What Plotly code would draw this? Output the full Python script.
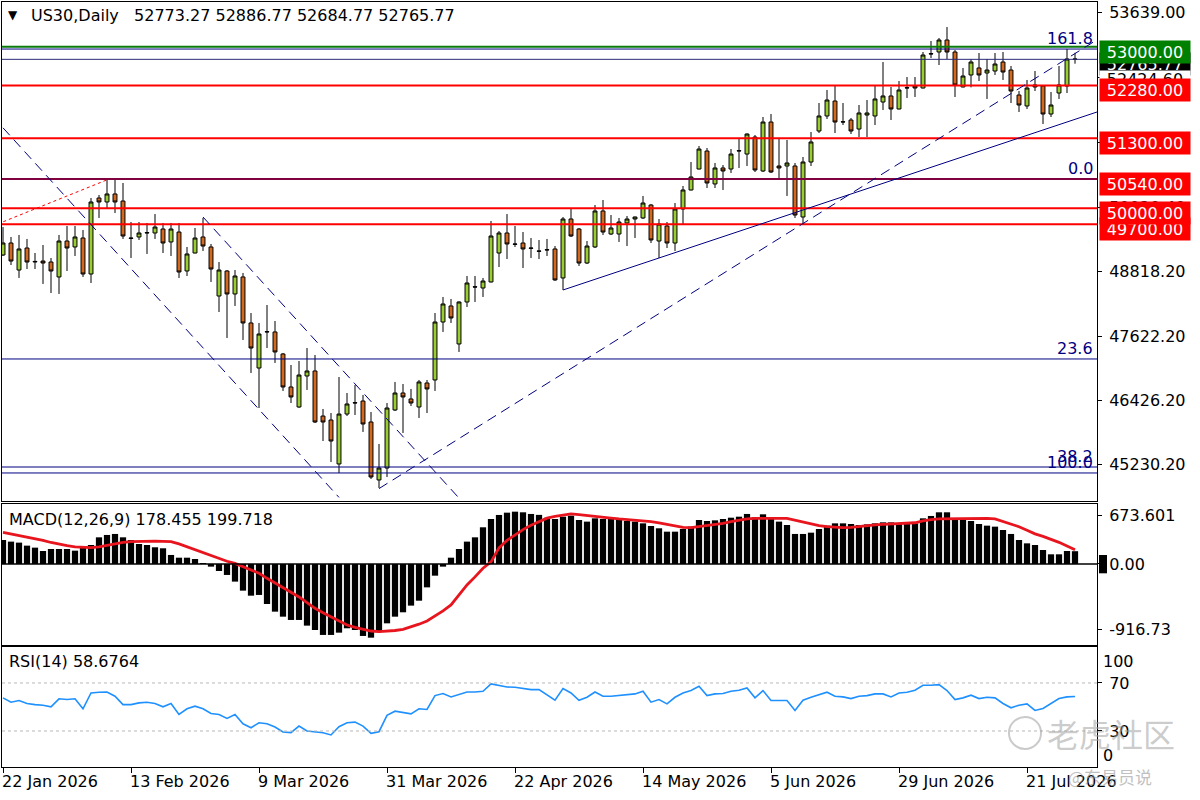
import pandas as pd
import plotly.graph_objects as go
from plotly.subplots import make_subplots

# bars: 22 Jan 2026 .. 29 Jul 2026 (weekdays)
dates = pd.bdate_range("2026-01-22", periods=135).strftime("%Y-%m-%d").tolist()

opens = [49130, 49353, 48851, 49260, 49000, 49018, 49000, 48722, 49390, 49279,
         49446, 48777, 50189, 50115, 50264, 50133, 49446, 49465, 49539, 49539,
         49613, 49372, 49557, 48833, 49167, 49465, 49279, 48368, 48833, 48406,
         48722, 47867, 47030, 47700, 47700, 47291, 46678, 46306, 46882, 46975,
         46138, 46064, 45247, 46175, 46380, 46417, 46027, 44950, 45172, 46250,
         46566, 46455, 46306, 46752, 46808, 47885, 48183, 47477, 48257, 48540,
         48517, 48629, 49167, 49539, 49335, 49353, 49260, 49205, 49223, 49242,
         48703, 49799, 49613, 48981, 49279, 49948, 49520, 49520, 49725, 49799,
         49818, 50059, 49390, 49669, 49353, 49985, 50338, 50728, 51062, 50450,
         50747, 50728, 51062, 51006, 51322, 50691, 51601, 50784, 50784, 50784,
         49836, 50858, 51434, 51713, 51991, 51601, 51638, 51471, 51731, 51713,
         51973, 52085, 51843, 52233, 52270, 52233, 52865, 52902, 53125, 52902,
         52252, 52475, 52605, 52512, 52549, 52716, 52567, 52103, 51899, 52289,
         52270, 51750, 52140, 52270, 52773.27]
highs = [49650, 49465, 49502, 49428, 49167, 49316, 49074, 49502, 49669, 49669,
         49595, 50189, 50245, 50524, 50524, 50468, 49743, 49743, 49725, 49892,
         49725, 49725, 49725, 49279, 49632, 49818, 49335, 49000, 48851, 48851,
         48796, 48052, 47867, 48201, 47904, 47309, 47086, 47160, 47402, 47272,
         46269, 46194, 46863, 46566, 46715, 46529, 46213, 45619, 46380, 46771,
         46733, 46641, 46808, 46808, 48052, 48350, 48313, 48270, 48740, 48740,
         48703, 49762, 49576, 49892, 49669, 49557, 49446, 49409, 49428, 49297,
         49836, 49985, 49632, 49390, 50059, 50152, 49873, 49818, 49855, 49845,
         50227, 50078, 49799, 49743, 50096, 50412, 50858, 51155, 51118, 50840,
         50802, 51099, 51304, 51390, 51360, 51694, 51750, 51285, 51267, 50840,
         50951, 51415, 51954, 52196, 52289, 51954, 51676, 51917, 52010, 52270,
         52716, 52252, 52363, 52437, 52437, 52902, 53106, 53162, 53366, 52939,
         52605, 52772, 52883, 52772, 52883, 52902, 52642, 52177, 52382, 52549,
         52280, 52159, 52642, 52958, 52886.77]
lows = [49112, 48944, 48703, 48870, 48870, 48592, 48424, 48406, 48833, 49112,
        48722, 48610, 49818, 50003, 49910, 49428, 49074, 49409, 49149, 49428,
        49167, 49112, 48703, 48740, 49160, 49205, 48629, 48071, 47588, 48183,
        47551, 46938, 46287, 47402, 47124, 46604, 46380, 46290, 46622, 46008,
        45674, 45284, 45080, 46138, 46157, 45842, 44968, 44801, 45005, 46231,
        45823, 46324, 46101, 46194, 46604, 47700, 47867, 47328, 48164, 48257,
        48350, 48620, 48907, 49055, 49279, 48888, 49074, 49055, 49112, 48650,
        48480, 49465, 48926, 48963, 49260, 49502, 49502, 49372, 49297, 49446,
        49799, 49353, 49074, 49260, 49205, 49706, 50330, 50720, 50375, 50375,
        50338, 50654, 50747, 50784, 50672, 50672, 50654, 50561, 50227, 49818,
        49706, 50784, 51397, 51657, 51397, 51545, 51378, 51322, 51322, 51545,
        51824, 51638, 51835, 52047, 52066, 52225, 52790, 52660, 52772, 52066,
        52245, 52245, 52363, 52029, 52475, 52382, 51954, 51787, 51843, 52177,
        51564, 51694, 52029, 52140, 52684.77]
closes = [49353, 49018, 49242, 49000, 49010, 48981, 48833, 49390, 49260, 49465,
          48777, 50115, 50115, 50264, 50115, 49483, 49440, 49539, 49545, 49650,
          49353, 49613, 48814, 49149, 49446, 49297, 48870, 48851, 48406, 48740,
          47867, 47402, 47662, 47705, 47328, 46678, 46492, 46900, 46975, 46027,
          46027, 45674, 46175, 46362, 46385, 45990, 45005, 45172, 46287, 46566,
          46492, 46380, 46771, 46641, 47885, 48220, 47960, 48257, 48610, 48535,
          48647, 49483, 49539, 49335, 49330, 49242, 49255, 49200, 49228, 48666,
          49799, 49483, 48981, 49297, 49948, 49557, 49632, 49743, 49799, 49836,
          50096, 49409, 49706, 49353, 49985, 50338, 50580, 51099, 50468, 50747,
          50691, 51006, 51068, 51378, 50709, 51601, 50672, 50747, 50840, 49873,
          50858, 51230, 51713, 52010, 51601, 51605, 51434, 51769, 51769, 52029,
          52085, 51843, 52196, 52238, 52233, 52846, 52870, 53125, 52902, 52289,
          52456, 52716, 52475, 52567, 52679, 52530, 52177, 51917, 52233, 52252,
          51750, 51917, 52289, 52772, 52765.77]

macd = [335, 312, 298, 256, 228, 181, 209, 209, 209, 186,
        228, 265, 372, 405, 419, 372, 335, 279, 265, 233,
        219, 126, 88, 88, 70, 5, -37, -98, -153, -246,
        -372, -442, -432, -558, -665, -735, -781, -781, -860, -921,
        -990, -990, -958, -897, -921, -1004, -1028, -944, -828, -735,
        -674, -581, -512, -326, -163, -37, 88, 209, 312, 372,
        512, 628, 684, 716, 730, 721, 698, 685, 645, 628,
        660, 674, 614, 591, 637, 628, 628, 614, 600, 591,
        567, 530, 498, 451, 451, 488, 521, 614, 600, 609,
        628, 646, 660, 698, 651, 693, 646, 591, 544, 419,
        419, 437, 488, 535, 567, 567, 558, 544, 553, 567,
        581, 581, 567, 567, 567, 637, 670, 721, 721, 628,
        628, 600, 558, 535, 521, 474, 419, 335, 288, 265,
        195, 135, 135, 181, 178.455]
signal = [442, 420, 400, 378, 358, 330, 300, 275, 256, 240,
          232, 228, 240, 262, 285, 302, 312, 318, 321, 320,
          316, 312, 280, 240, 195, 150, 110, 72, 38, 9,
          -40, -85, -130, -200, -265, -330, -386, -460, -540, -618,
          -680, -740, -800, -851, -885, -915, -935, -944, -940, -928,
          -911, -880, -840, -795, -730, -655, -572, -440, -293, -180,
          -60, 30, 225, 330, 410, 480, 540, 590, 640, 665,
          685, 698, 690, 675, 660, 651, 640, 628, 620, 610,
          600, 591, 575, 555, 530, 512, 507, 520, 540, 555,
          567, 590, 610, 628, 637, 640, 640, 637, 637, 610,
          580, 553, 535, 520, 510, 507, 512, 525, 535, 545,
          553, 558, 562, 567, 575, 600, 620, 628, 630, 635,
          637, 637, 637, 637, 630, 591, 560, 520, 470, 420,
          385, 345, 302, 250, 199.718]
rsi = [57.6, 54, 55.4, 52.9, 52, 51.5, 50.1, 56.8, 56.2, 56.8,
       48.5, 61.7, 62.3, 62.5, 59, 52, 52, 53.4, 54, 52.9,
       50.1, 52.9, 43.8, 48.5, 50.7, 48.5, 44.6, 43.8, 40.5, 43.8,
       36, 32.7, 36.9, 36, 33.3, 29.2, 28.6, 34.1, 30, 29.4,
       28.6, 26.7, 33.6, 36.9, 37.4, 34.1, 28, 29.4, 43, 46.5,
       45.7, 44.3, 48.5, 47.9, 59.5, 61.2, 58.4, 60.3, 62.5, 62.5,
       63.1, 69.2, 67.8, 66.7, 66.4, 65.3, 64.5, 64.5, 60.3, 55.6,
       65.3, 61.7, 55.6, 58.1, 62.5, 59, 59, 59.8, 60.3, 60.9,
       63.1, 54, 56.2, 52.6, 58.1, 61.7, 63.7, 67.2, 59.5, 60.9,
       61.2, 63.1, 63.9, 65.9, 57.6, 63.7, 55.4, 55.4, 55.4, 47.1,
       55.6, 58.1, 60.3, 62.3, 59, 58.4, 57, 59, 59.5, 60.9,
       60.9, 58.4, 61.7, 62.3, 63.9, 68.1, 68.1, 68.6, 63.7, 56.2,
       57.6, 59.8, 57, 58.1, 57.6, 52.9, 49.3, 51.5, 52.6, 47.1,
       48.7, 52.9, 57, 58.4, 58.6764]

# horizontal levels and drawn objects
green_level = 53000
red_levels = [52280, 51300, 50000, 49700]
purple_level = 50540
bid_price = 52765.77
fib_levels = [52957, 50540, 47198, 45191, 45080]
fib_names = ["161.8", "0.0", "23.6", "38.2", "100.0"]
# (bar0, price0, bar1, price1, color, dash)
trend_lines = [
    (0.04, 49749, 12.96, 50524, "#ff0000", "dot"),
    (0, 51493, 42, 44626, "#000080", "10px,6px"),
    (25, 49836, 56.9, 44630, "#000080", "10px,6px"),
    (47, 44790, 136.75, 53129, "#000080", "10px,6px"),
    (70, 48480, 136.75, 51787, "#000080", "solid"),
]
price_ticks = [53639.00, 52424.60, 51222.50, 50020.40, 48818.20, 47622.20, 46426.20, 45230.20]
macd_ticks = [673.601, 0, -916.73]

tick_idx = list(range(0, 135, 16))
tick_vals = [dates[i] for i in tick_idx]
tick_text = [pd.Timestamp(dates[i]).strftime("%-d %b %Y") for i in tick_idx]

FONT = "DejaVu Sans"

fig = make_subplots(rows=3, cols=1, shared_xaxes=True, vertical_spacing=0.01)

fig.add_trace(go.Candlestick(
    x=dates, open=opens, high=highs, low=lows, close=closes,
    increasing=dict(line=dict(color="black", width=1), fillcolor="#9acd32"),
    decreasing=dict(line=dict(color="black", width=1), fillcolor="#d2691e"),
    whiskerwidth=0, showlegend=False), row=1, col=1)

fig.add_trace(go.Bar(x=dates, y=macd, marker=dict(color="black", line=dict(width=0)),
                     showlegend=False), row=2, col=1)
fig.add_trace(go.Scatter(x=dates, y=signal, mode="lines",
                         line=dict(color="#e8141e", width=2.8), showlegend=False), row=2, col=1)
fig.add_trace(go.Scatter(x=dates, y=rsi, mode="lines",
                         line=dict(color="#1e90ff", width=1.6), showlegend=False), row=3, col=1)

# horizontal lines
def hline(y, color, width, yref="y", dash="solid"):
    fig.add_shape(type="line", xref="x domain", yref=yref, x0=0, x1=1, y0=y, y1=y,
                  line=dict(color=color, width=width, dash=dash))

for lv in fib_levels:
    hline(lv, "#000080", 1)
hline(bid_price, "#2a2a7a", 1)
hline(green_level, "#0a7a0a", 2)
for lv in red_levels:
    hline(lv, "#ff0000", 2)
hline(purple_level, "#800040", 2)
hline(0, "black", 1.5, yref="y2")
for lv in [70, 30]:
    hline(lv, "#b8b8b8", 1, yref="y3", dash="dot")

for b0, p0, b1, p1, color, dash in trend_lines:
    fig.add_shape(type="line", xref="x", yref="y", x0=b0, x1=b1, y0=p0, y1=p1,
                  line=dict(color=color, width=1, dash=dash))

# fibonacci level names
for lv, name in zip(fib_levels, fib_names):
    fig.add_annotation(x=1, xref="paper", y=lv, yref="y", text=name, showarrow=False,
                       xanchor="right", yanchor="bottom", xshift=-2, yshift=-1,
                       font=dict(family=FONT, size=16, color="#000080"))

# price labels on the right axis (drawn in MT4 order)
def price_label(price, text, bg, fg="white", yshift=-5, height=22):
    fig.add_annotation(x=1, xref="paper", y=price, yref="y", text=text, showarrow=False,
                       xanchor="left", xshift=2, yshift=yshift, width=90, height=height,
                       bgcolor=bg, borderpad=0, align="center",
                       font=dict(family=FONT, size=16, color=fg))

price_label(bid_price, "52765.77", "black")
price_label(52424.60, "52424.60", "white", fg="black", yshift=-2, height=17)
price_label(green_level, "53000.00", "#008000")
price_label(52280, "52280.00", "#ff0000")
price_label(51300, "51300.00", "#ff0000")
price_label(50540, "50540.00", "#ff0000")
price_label(49700, "49700.00", "#ff0000")
price_label(50000, "50000.00", "#ff0000")

# small black marker next to MACD zero label
fig.add_shape(type="rect", xref="paper", yref="y2", x0=1 + 2 / 1095, x1=1 + 10 / 1095,
              y0=-130, y1=125, fillcolor="black", line=dict(width=0))

# panel titles
fig.add_annotation(x=0, xref="paper", y=1, yref="paper", text="▼", showarrow=False,
                   xanchor="left", yanchor="middle", xshift=4, yshift=-13,
                   font=dict(family=FONT, size=12, color="black"))
fig.add_annotation(x=0, xref="paper", y=1, yref="paper",
                   text="US30,Daily\u00a0\u00a0 52773.27 52886.77 52684.77 52765.77",
                   showarrow=False, xanchor="left", yanchor="middle", xshift=27, yshift=-13,
                   font=dict(family=FONT, size=16, color="black"))
fig.add_annotation(x=0, xref="x domain", y=1, yref="y2 domain",
                   text="MACD(12,26,9) 178.455 199.718", showarrow=False,
                   xanchor="left", yanchor="middle", xshift=5, yshift=-16,
                   font=dict(family=FONT, size=16, color="black"))
fig.add_annotation(x=0, xref="x domain", y=1, yref="y3 domain",
                   text="RSI(14) 58.6764", showarrow=False,
                   xanchor="left", yanchor="middle", xshift=5, yshift=-15,
                   font=dict(family=FONT, size=16, color="black"))
fig.add_annotation(x=1, xref="paper", y=100, yref="y3", text="100", showarrow=False,
                   xanchor="left", yanchor="top", xshift=4, yshift=-3,
                   font=dict(family=FONT, size=16, color="black"))
fig.add_annotation(x=1, xref="paper", y=0, yref="y3", text="0", showarrow=False,
                   xanchor="left", yanchor="bottom", xshift=4, yshift=0,
                   font=dict(family=FONT, size=16, color="black"))

# watermark
fig.add_shape(type="circle", xref="paper", yref="paper", x0=0.9196, x1=0.9489,
              y0=0.0235, y1=0.0654, line=dict(color="rgba(150,150,150,0.5)", width=2))
fig.add_annotation(x=0.9525, xref="paper", y=0.0444, yref="paper", text="老虎社区",
                   showarrow=False, xanchor="left", yanchor="middle",
                   font=dict(family="Noto Sans CJK SC", size=32, color="rgba(160,160,160,0.55)"))
fig.add_annotation(x=0.972, xref="paper", y=-0.012, yref="paper", text="@东易员说",
                   showarrow=False, xanchor="left", yanchor="middle",
                   font=dict(family="Noto Sans CJK SC", size=17, color="rgba(150,150,150,0.6)"))

axis_common = dict(showline=True, mirror=True, linecolor="black", linewidth=1,
                   showgrid=False, zeroline=False, automargin=False)
for i in (1, 2, 3):
    fig.update_xaxes(axis_common, type="category", range=[-0.125, 136.75],
                     rangeslider_visible=False, row=i, col=1)
fig.update_xaxes(showticklabels=False, ticks="", row=1, col=1)
fig.update_xaxes(showticklabels=False, ticks="", row=2, col=1)
fig.update_xaxes(tickmode="array", tickvals=tick_vals, ticktext=tick_text, ticks="outside",
                 ticklen=5, tickcolor="black", ticklabelposition="outside right",
                 ticklabelshift=-2,
                 tickfont=dict(family=FONT, size=16, color="black"), row=3, col=1)

fig.update_yaxes(axis_common, side="right", ticks="outside", ticklen=4, tickcolor="black",
                 tickfont=dict(family=FONT, size=16, color="black"), ticklabelstandoff=4)
fig.update_yaxes(domain=[0.3477, 1.0], range=[44559, 53831], tickmode="array",
                 tickvals=price_ticks,
                 ticktext=["" if v == 52424.60 else f"{v:.2f}" for v in price_ticks],
                 row=1, col=1)
fig.update_yaxes(domain=[0.1595, 0.3438], range=[-1130, 837], tickmode="array",
                 tickvals=macd_ticks, ticktext=["673.601", "0.00", "-916.73"], row=2, col=1)
fig.update_yaxes(domain=[0.0, 0.1569], range=[0, 100], tickmode="array",
                 tickvals=[70, 30], ticktext=["70", "30"], row=3, col=1)

fig.update_layout(width=1200, height=800, margin=dict(l=2, r=103, t=2, b=33),
                  paper_bgcolor="white", plot_bgcolor="white", bargap=0.22,
                  hovermode=False, font=dict(family=FONT, size=16, color="black"))

# the page's default 8px body margin would push the figure off its place
fig.write_html("out.html", config={"displayModeBar": False},
               post_script="document.body.style.margin='0';")
